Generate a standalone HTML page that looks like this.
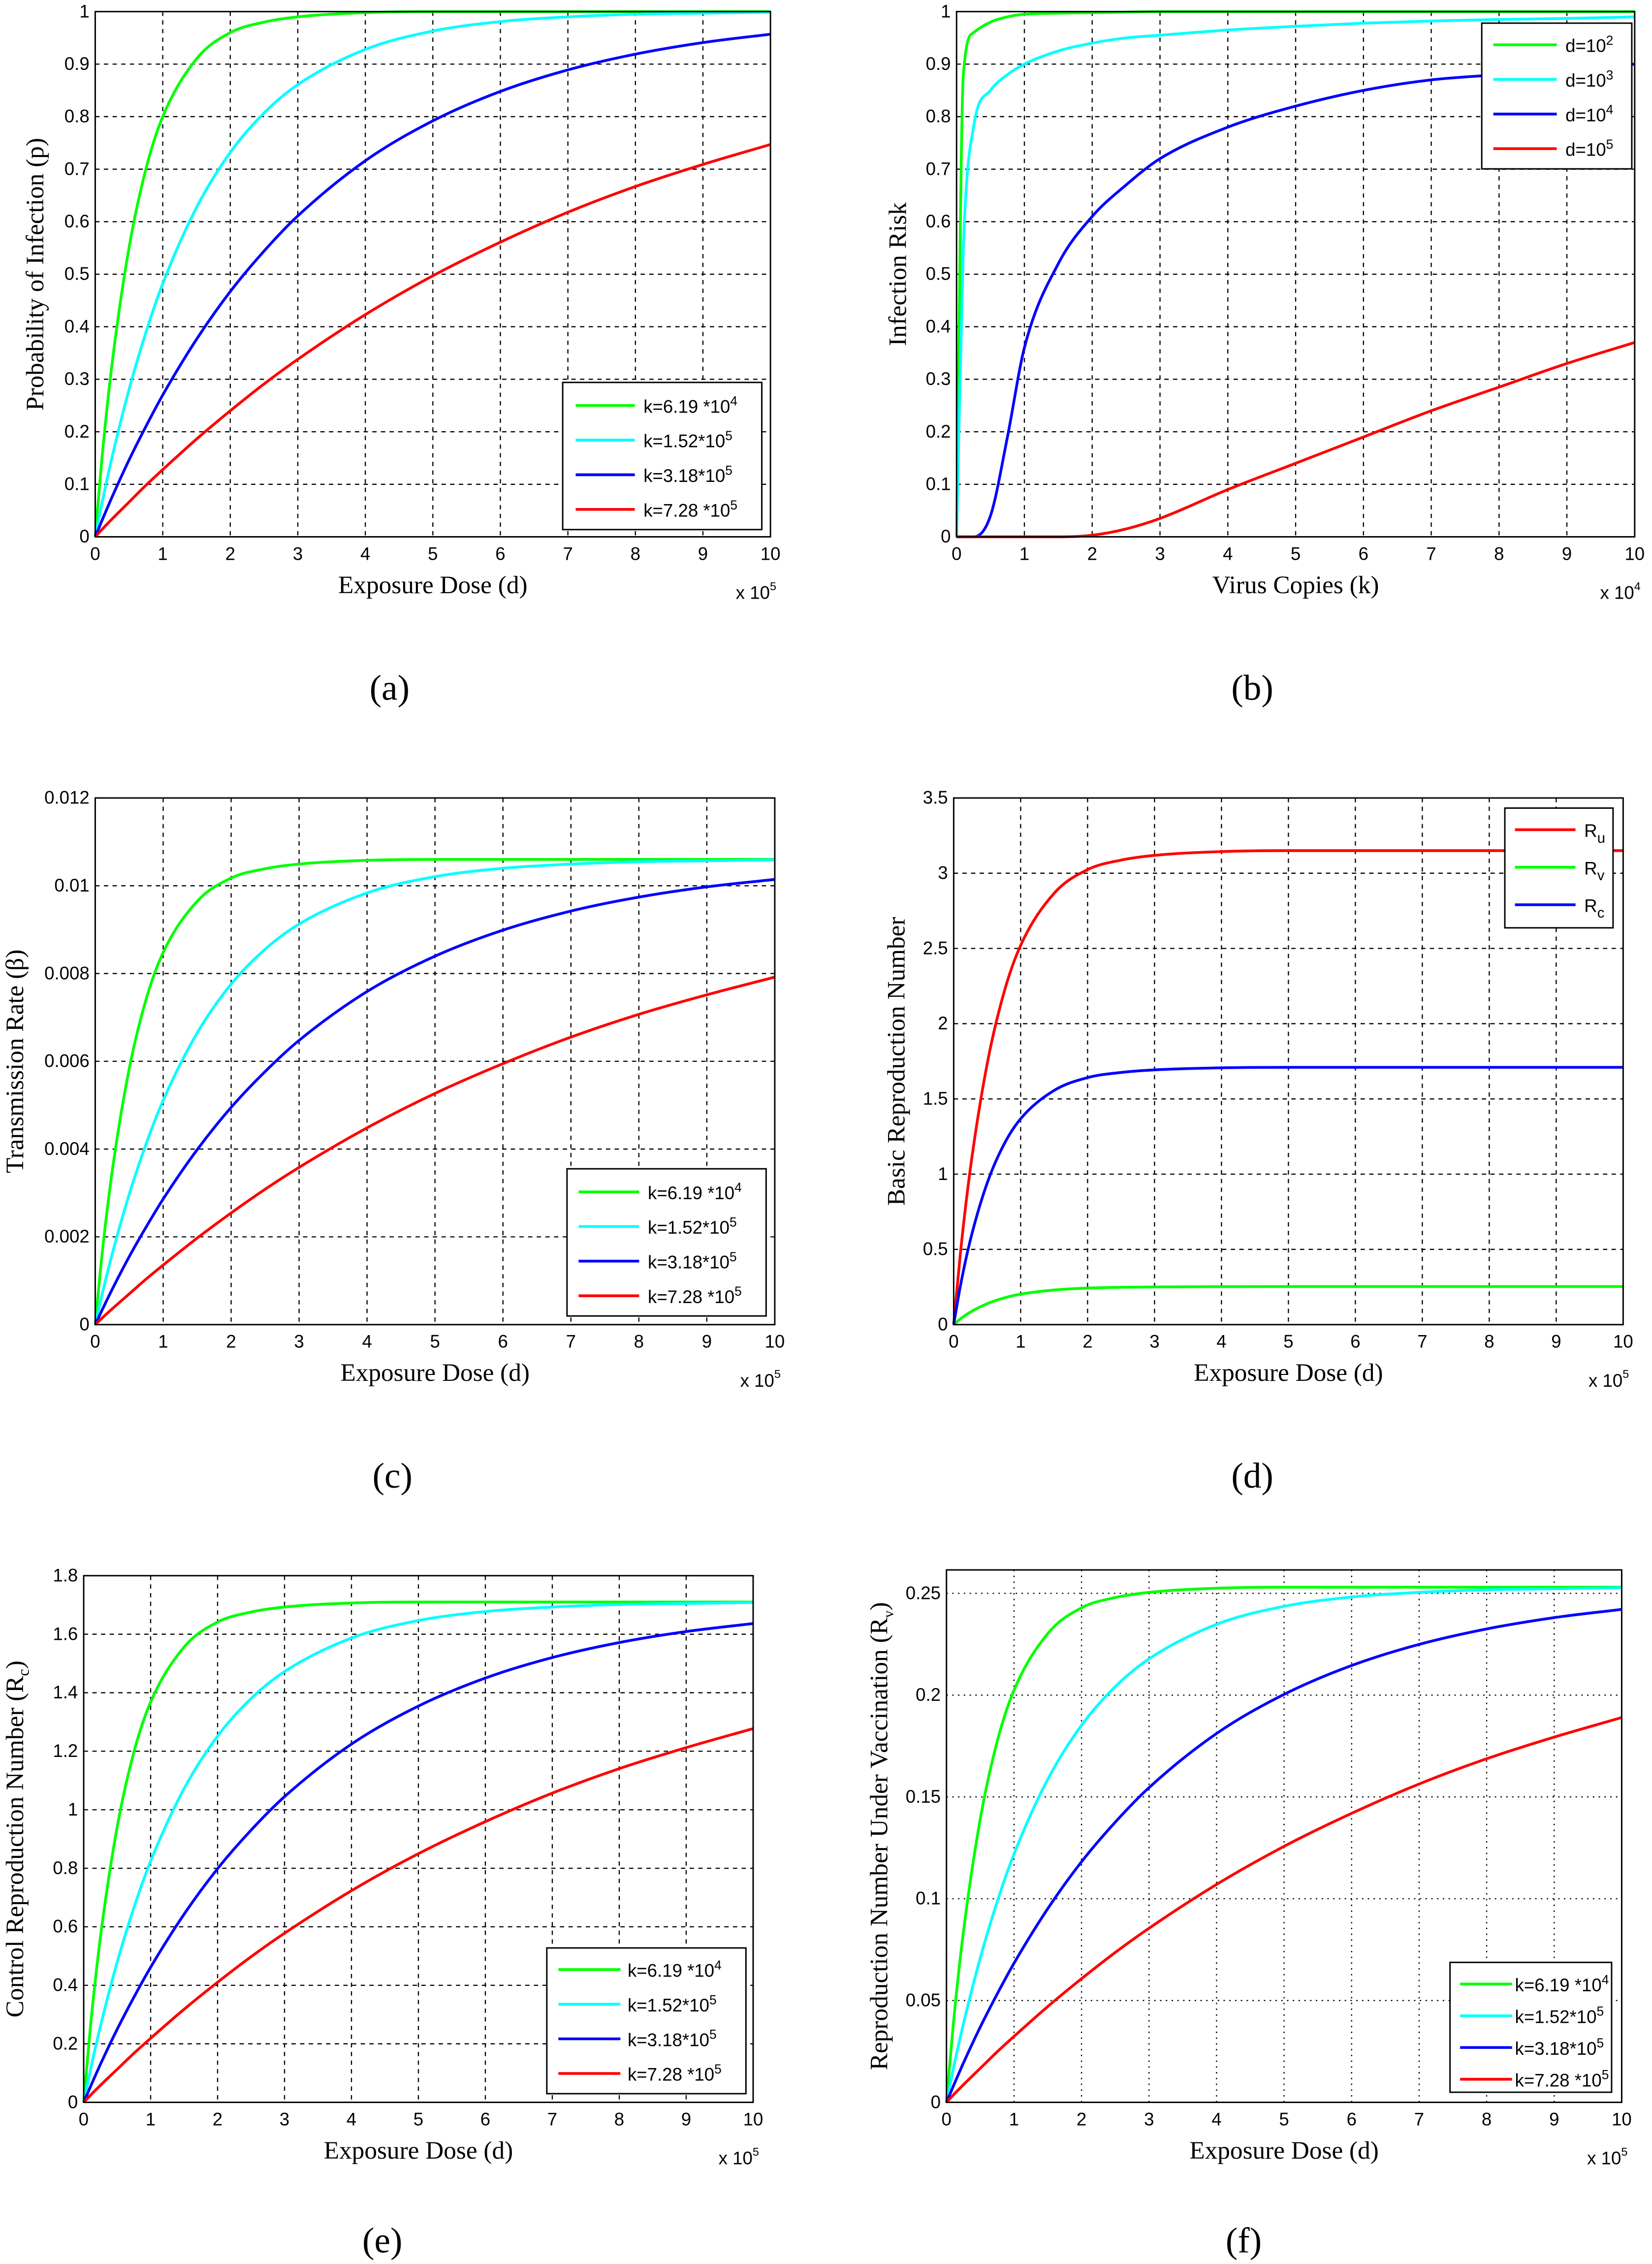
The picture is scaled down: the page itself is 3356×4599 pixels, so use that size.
<!DOCTYPE html>
<html><head><meta charset="utf-8"><style>
html,body{margin:0;padding:0;background:#fff}
svg{display:block}
.tk{font-family:"Liberation Sans",Arial,sans-serif;font-size:12.5px;fill:#000}
.lb{font-family:"Liberation Serif","Times New Roman",serif;font-size:17.5px;fill:#000}
.cap{font-family:"Liberation Serif","Times New Roman",serif;font-size:25px;fill:#000}
.lg{font-family:"Liberation Sans",Arial,sans-serif;font-size:12.5px;fill:#000}
</style></head><body>
<svg id="fig" width="3356" height="4599" viewBox="0 0 1145 1569" xmlns="http://www.w3.org/2000/svg"></svg>
<script>
// shared sample positions (x in units of 10^5 or 10^4)
const xs = [0,0.1,0.25,0.5,0.75,1,1.5,2,2.5,3,4,5,6,7,8,9,10];
// normalized infection probabilities
const pGreen = [0,0.15,0.33,0.55,0.70,0.80,0.91,0.96,0.98,0.99,0.998,1,1,1,1,1,1];
const pCyan  = [0,0.064,0.152,0.28,0.389,0.482,0.627,0.732,0.807,0.861,0.928,0.963,0.981,0.99,0.995,0.997,0.999];
const pBlue  = [0,0.031,0.076,0.146,0.21,0.27,0.376,0.467,0.544,0.611,0.716,0.792,0.848,0.889,0.919,0.941,0.957];
const pRed   = [0,0.014,0.034,0.066,0.098,0.128,0.186,0.24,0.291,0.338,0.423,0.497,0.561,0.618,0.667,0.709,0.747];
// panel (b) infection risk vs virus copies
const bD2 = [0,0.88,0.96,0.98,0.99,0.995,0.997,0.998,0.999,1,1,1,1,1,1,1,1];
const bD3 = [0,0.55,0.78,0.85,0.88,0.90,0.925,0.94,0.95,0.955,0.965,0.972,0.978,0.982,0.985,0.987,0.99];
const bD4 = [0,0,0,0.04,0.19,0.36,0.52,0.61,0.67,0.72,0.78,0.82,0.85,0.87,0.88,0.89,0.90];
const bD5 = [0,0,0,0,0,0,0,0.003,0.015,0.035,0.09,0.14,0.19,0.24,0.285,0.33,0.37];
// scale values per panel
const betaMax = 0.0106, rcMax = 1.71, rvMax = 0.253, ruMax = 3.15;
const xTicks = [0,1,2,3,4,5,6,7,8,9,10];
const ticksA = [0,0.1,0.2,0.3,0.4,0.5,0.6,0.7,0.8,0.9,1];
const ticksC = [0,0.002,0.004,0.006,0.008,0.01,0.012];
const ticksD = [0,0.5,1,1.5,2,2.5,3,3.5];
const ticksE = [0,0.2,0.4,0.6,0.8,1,1.2,1.4,1.6,1.8];
const ticksF = [0,0.05,0.1,0.15,0.2,0.25];
const kLabels = [["k=6.19 *10","4"],["k=1.52*10","5"],["k=3.18*10","5"],["k=7.28 *10","5"]];
const G="#00ff00",C="#00ffff",B="#0000ff",R="#ff0000";

const svg=document.getElementById('fig');
const NS="http://www.w3.org/2000/svg";
function mk(tag,attrs,parent){const e=document.createElementNS(NS,tag);for(const k in attrs)e.setAttribute(k,attrs[k]);(parent||svg).appendChild(e);return e;}
function scale(arr,f){return arr.map(v=>v*f);}
function monoPath(px,py){
  const n=px.length,d=[],m=new Array(n).fill(0);
  for(let i=0;i<n-1;i++)d.push((py[i+1]-py[i])/(px[i+1]-px[i]));
  m[0]=d[0];m[n-1]=d[n-2];
  for(let i=1;i<n-1;i++){m[i]=(d[i-1]*d[i]<=0)?0:(d[i-1]+d[i])/2;}
  for(let i=0;i<n-1;i++){if(d[i]===0){m[i]=0;m[i+1]=0;continue;}const a=m[i]/d[i],b=m[i+1]/d[i],s=a*a+b*b;if(s>9){const t=3/Math.sqrt(s);m[i]=t*a*d[i];m[i+1]=t*b*d[i];}}
  let p="M"+px[0]+","+py[0];
  for(let i=0;i<n-1;i++){const h=px[i+1]-px[i];p+=" C"+(px[i]+h/3)+","+(py[i]+m[i]*h/3)+" "+(px[i+1]-h/3)+","+(py[i+1]-m[i+1]*h/3)+" "+px[i+1]+","+py[i+1];}
  return p;
}
function panel(o){
  const g=mk('g',{});
  
  
  const X=v=>o.L+(o.R-o.L)*v/10, Y=v=>o.Bt-(o.Bt-o.T)*v/o.ymax;
  mk('rect',{x:o.L,y:o.T,width:o.R-o.L,height:o.Bt-o.T,fill:'#fff'},g);
  const dash=o.dotted?'1,3':'3,3';
  xTicks.forEach(t=>{const x=X(t);
    if(t>0&&t<10){const l=mk('line',{x1:x,y1:o.T,x2:x,y2:o.Bt,stroke:'#000','stroke-width':0.8,'stroke-dasharray':dash},g);}
    const tx=mk('text',{x:x,y:o.Bt+16,'text-anchor':'middle',class:'tk'},g);tx.textContent=t;
    });
  o.ticks.forEach(t=>{const y=Y(t);
    if(t>0&&Math.abs(y-o.T)>1){const l=mk('line',{x1:o.L,y1:y,x2:o.R,y2:y,stroke:'#000','stroke-width':0.8,'stroke-dasharray':dash},g);}
    const tx=mk('text',{x:o.L-4,y:y+4,'text-anchor':'end',class:'tk'},g);tx.textContent=t;
    });
  o.series.forEach(s=>{const px=xs.map(X),py=s.v.map(Y);
    const p=mk('path',{d:monoPath(px,py),fill:'none',stroke:s.c,'stroke-width':1.9},g);
    });
  mk('rect',{x:o.L,y:o.T,width:o.R-o.L,height:o.Bt-o.T,fill:'none',stroke:'#000','stroke-width':1},g);
  const xl=mk('text',{x:(o.L+o.R)/2,y:o.Bt+39,'text-anchor':'middle',class:'lb'},g);xl.textContent=o.xlabel;
  
  const ex=mk('text',{x:o.R-24,y:o.Bt+43,class:'tk','font-size':11},g);ex.innerHTML='x 10<tspan dy="-6" font-size="8">'+o.exp+'</tspan>';
  
  const cy=(o.T+o.Bt)/2;
  const yl=mk('text',{x:o.ylx,y:cy,'text-anchor':'middle',class:'lb',transform:'rotate(-90 '+o.ylx+' '+cy+')','font-size':o.ylfs||17.5},g);yl.innerHTML=o.ylabel;
  
  const lgd=o.lg;
  const lg=mk('g',{},g);
  mk('rect',{x:lgd.x,y:lgd.y,width:lgd.w,height:lgd.h,fill:'#fff',stroke:'#000','stroke-width':1},lg);
  lgd.items.forEach((it,i)=>{const y=lgd.r0+i*lgd.dy;
    mk('line',{x1:lgd.l1,y1:y,x2:lgd.l2,y2:y,stroke:it.c,'stroke-width':1.9},lg);
    const t=mk('text',{x:lgd.tx,y:y+5,class:'lg','font-size':lgd.fs||12.5},lg);t.innerHTML=it.t;
    });
  const cp=mk('text',{x:o.capx,y:o.capy,'text-anchor':'middle',class:'cap'},g);cp.textContent=o.cap;
  
}
function kItems(cols){return kLabels.map((k,i)=>({c:cols[i],t:k[0]+'<tspan dy="-5" font-size="9">'+k[1]+'</tspan>'}));}
const cols=[G,C,B,R];
function kSeries(f){return [{n:'series-k-6.19e4',c:G,v:scale(pGreen,f)},{n:'series-k-1.52e5',c:C,v:scale(pCyan,f)},{n:'series-k-3.18e5',c:B,v:scale(pBlue,f)},{n:'series-k-7.28e5',c:R,v:scale(pRed,f)}];}

panel({name:'panel-a',L:66,R:534,T:8,Bt:372,ymax:1,ticks:ticksA,xlabel:'Exposure Dose (d)',exp:5,ylabel:'Probability of Infection (p)',ylx:30,
 series:kSeries(1),lg:{x:390,y:265,w:138,h:102,r0:281,dy:24,l1:399,l2:440,tx:446,items:kItems(cols)},cap:'(a)',capx:270,capy:485});
panel({name:'panel-b',L:663,R:1133,T:8,Bt:372,ymax:1,ticks:ticksA,xlabel:'Virus Copies (k)',exp:4,ylabel:'Infection Risk',ylx:628,
 series:[{n:'series-d-1e2',c:G,v:bD2},{n:'series-d-1e3',c:C,v:bD3},{n:'series-d-1e4',c:B,v:bD4},{n:'series-d-1e5',c:R,v:bD5}],
 lg:{x:1027,y:16,w:104,h:101,r0:31,dy:24,l1:1035,l2:1079,tx:1085,items:[2,3,4,5].map((e,i)=>({c:cols[i],t:'d=10<tspan dy="-5" font-size="9">'+e+'</tspan>'}))},cap:'(b)',capx:868,capy:485});
panel({name:'panel-c',L:66,R:537,T:553,Bt:918,ymax:0.012,ticks:ticksC,xlabel:'Exposure Dose (d)',exp:5,ylabel:'Transmission Rate (β)',ylx:16,
 series:kSeries(betaMax),lg:{x:393,y:810,w:138,h:102,r0:826,dy:24,l1:401,l2:443,tx:449,items:kItems(cols)},cap:'(c)',capx:272,capy:1031});
panel({name:'panel-d',L:661,R:1125,T:553,Bt:918,ymax:3.5,ticks:ticksD,xlabel:'Exposure Dose (d)',exp:5,ylabel:'Basic Reproduction Number',ylx:627,
 series:[{n:'series-ru',c:R,v:scale(pGreen,ruMax)},{n:'series-rv',c:G,v:scale(pGreen,rvMax)},{n:'series-rc',c:B,v:scale(pGreen,rcMax)}],
 lg:{x:1043,y:560,w:75,h:83,r0:575,dy:26,l1:1050,l2:1092,tx:1098,fs:14,items:[{c:R,t:'R<tspan dy="4" font-size="10">u</tspan>'},{c:G,t:'R<tspan dy="4" font-size="10">v</tspan>'},{c:B,t:'R<tspan dy="4" font-size="10">c</tspan>'}]},cap:'(d)',capx:868,capy:1031});
panel({name:'panel-e',L:58,R:522,T:1092,Bt:1457,ymax:1.8,ticks:ticksE,xlabel:'Exposure Dose (d)',exp:5,ylabel:'Control Reproduction Number (R<tspan dy="4" font-size="11">c</tspan><tspan dy="-4">)</tspan>',ylx:16,
 series:kSeries(rcMax),lg:{x:379,y:1350,w:138,h:101,r0:1365,dy:24,l1:387,l2:430,tx:435,items:kItems(cols)},cap:'(e)',capx:265,capy:1561});
panel({name:'panel-f',L:656,R:1124,T:1088,Bt:1457,ymax:0.2615,ticks:ticksF,dotted:true,xlabel:'Exposure Dose (d)',exp:5,ylfs:15,ylabel:'Reproduction Number Under Vaccination (R<tspan dy="4" font-size="10">v</tspan><tspan dy="-4">)</tspan>',ylx:615,
 series:kSeries(rvMax),lg:{x:1005,y:1360,w:112,h:90,r0:1375,dy:22,l1:1012,l2:1048,tx:1050,fs:11,items:kItems(cols)},cap:'(f)',capx:862,capy:1561});
</script>
</body></html>
